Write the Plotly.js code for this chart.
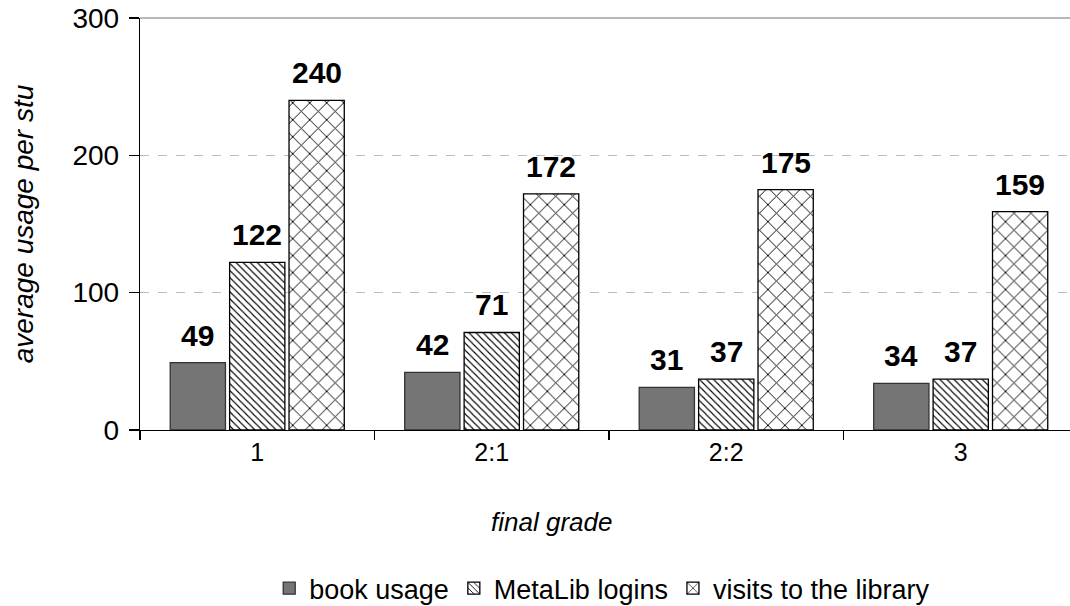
<!DOCTYPE html>
<html>
<head>
<meta charset="utf-8">
<script src="https://cdn.plot.ly/plotly-3.0.1.min.js"></script>
<style>html,body{margin:0;padding:0;background:#fff;}#chart{width:1070px;height:606px;}</style>
</head>
<body>
<div id="chart"></div>
<script>
const categories = ["1", "2:1", "2:2", "3"];
const seriesNames = ["book usage", "MetaLib logins", "visits to the library"];
const bookUsage = [49, 42, 31, 34];
const metalibLogins = [122, 71, 37, 37];
const libraryVisits = [240, 172, 175, 159];
const yTicks = [0, 100, 200, 300];
const xTitle = "final grade";
const yTitle = "average usage per stu";

const FONT = "Liberation Sans, Arial, sans-serif";
const seriesValues = [bookUsage, metalibLogins, libraryVisits];
const patterns = [
  {shape: ".", fgcolor: "#333", bgcolor: "#a8a8a8", size: 2, solidity: 0.5},
  {shape: "\\", fgcolor: "#000", bgcolor: "#fff", size: 5, solidity: 0.22},
  {shape: "x", fgcolor: "#000", bgcolor: "#fff", size: 12, solidity: 0.15}
];
const lineColors = ["#333", "#000", "#000"];

const bargap = 0.24, bargroupgap = 0.07;

const traces = seriesValues.map((vals, i) => ({
  type: "bar",
  name: seriesNames[i],
  x: categories,
  y: vals,
  marker: {color: patterns[i].bgcolor, pattern: patterns[i], line: {color: lineColors[i], width: 1.3}},
  hoverinfo: "skip"
}));

// value labels above bars (positions derived from bar grouping)
const annotations = [];
const slot = (1 - bargap) / seriesValues.length;
seriesValues.forEach((vals, i) => {
  vals.forEach((v, k) => {
    annotations.push({
      xref: "x", yref: "y",
      x: k - (1 - bargap) / 2 + slot * (i + 0.5),
      y: v,
      text: "<b>" + v + "</b>",
      showarrow: false,
      yanchor: "bottom",
      yshift: 9,
      font: {family: FONT, size: 30, color: "#000"}
    });
  });
});
annotations.push({
  xref: "paper", yref: "paper", x: 0.442, y: -0.223,
  text: "<i>" + xTitle + "</i>", showarrow: false,
  xanchor: "center", yanchor: "middle",
  font: {family: FONT, size: 26, color: "#000"}
});

const layout = {
  width: 1070, height: 606,
  margin: {l: 140, r: 0, t: 18, b: 176, autoexpand: false},
  paper_bgcolor: "#fff", plot_bgcolor: "#fff",
  barmode: "group", bargap: bargap, bargroupgap: bargroupgap,
  font: {family: FONT, color: "#000"},
  showlegend: true,
  legend: {
    orientation: "h", x: 0.497, xanchor: "center", y: -0.385, yanchor: "middle",
    font: {family: FONT, size: 27, color: "#000"},
    itemwidth: 30, traceorder: "normal"
  },
  xaxis: {
    type: "category",
    range: [-0.5, 3.466],
    showline: true, linecolor: "#000", linewidth: 1.3,
    ticks: "outside", tickson: "boundaries", ticklen: 9, tickcolor: "#000", tickwidth: 1.3,
    tickfont: {family: FONT, size: 25, color: "#000"},
    showgrid: false, zeroline: false,
    automargin: false,
    fixedrange: true
  },
  yaxis: {
    range: [0, 300],
    tickvals: yTicks,
    showline: true, linecolor: "#000", linewidth: 1.3,
    ticks: "outside", ticklen: 10, tickcolor: "#000", tickwidth: 1.3,
    tickfont: {family: FONT, size: 28, color: "#000"},
    ticklabelstandoff: 4,
    showgrid: true, gridcolor: "#bdbdbd", griddash: "dash", gridwidth: 1.2,
    zeroline: false,
    automargin: false,
    title: {text: "<i>" + yTitle + "</i>", font: {family: FONT, size: 28, color: "#000"}, standoff: 30},
    fixedrange: true
  },
  shapes: [{
    type: "line", xref: "paper", yref: "paper", x0: 0, x1: 1, y0: 1, y1: 1,
    line: {color: "#a0a0a0", width: 1.5}
  }],
  annotations: annotations
};

Plotly.newPlot("chart", traces, layout, {displayModeBar: false, staticPlot: true});
</script>
</body>
</html>
